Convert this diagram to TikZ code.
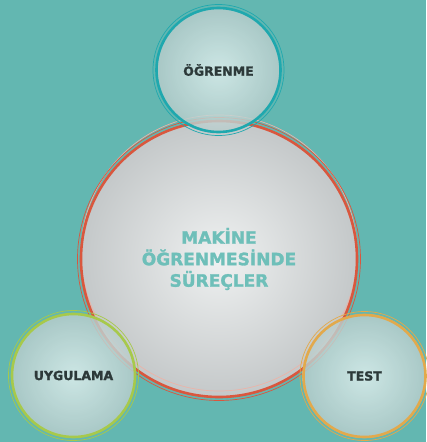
\documentclass[tikz,border=0pt]{standalone}
\usepackage{fontspec}
\setmainfont{DejaVu Sans}[BoldFeatures={FakeBold=1.6}]
\definecolor{bgteal}{HTML}{63B7B1}
\definecolor{ringred}{HTML}{D9573E}
\definecolor{ringpink}{HTML}{EBB3A8}
\definecolor{ringteal}{HTML}{1FA8AE}
\definecolor{ringgreen}{HTML}{A7C94B}
\definecolor{ringorange}{HTML}{E2A94C}
\definecolor{bigin}{HTML}{EFF1F1}
\definecolor{bigout}{HTML}{C4C8C9}
\definecolor{smallin}{HTML}{E4F1F0}
\definecolor{smallout}{HTML}{B8CCCB}
\definecolor{centertext}{HTML}{6EBFB9}
\definecolor{labeltext}{HTML}{2C3939}
\tikzset{
  bigbubble/.style={circle,minimum size=276pt,inner sep=0pt,shading=radial,
    inner color=bigin,outer color=bigout,text=centertext,align=center,
    font=\bfseries\fontsize{17}{21.5}\selectfont},
  bubble/.style={circle,minimum size=124pt,inner sep=0pt,shading=radial,
    inner color=smallin,outer color=smallout,fill opacity=.82,text opacity=1,
    text=labeltext,font=\bfseries\fontsize{12.5}{15}\selectfont},
  thickring/.style={line width=2.6pt},
  thinring/.style={line width=.7pt}
}
\begin{document}
\begin{tikzpicture}[x=1pt,y=-1pt]
\fill[bgteal](0,0)rectangle(426,442);
\useasboundingbox(0,0)rectangle(426,442);
%main circle
\node[bigbubble](surec)at(219,259){MAKİNE\\ÖĞRENMESİNDE\\SÜREÇLER};
\draw[thinring,ringpink](219,253)circle(138pt);
\draw[thickring,ringred](surec)circle(138pt);
\draw[thinring,ringred](surec)circle(141.5pt);
%process circles
\node[bubble](ogrenme)at(218.5,70){ÖĞRENME};
\draw[thickring,ringteal](ogrenme)circle(62pt);
\draw[thinring,ringteal](ogrenme)circle(65.5pt);
\node[bubble](uygulama)at(73.5,375.5){UYGULAMA};
\draw[thickring,ringgreen](uygulama)circle(61.5pt);
\draw[thinring,ringgreen](uygulama)circle(65pt);
\node[bubble](test)at(364.5,376){TEST};
\draw[thickring,ringorange](test)circle(61pt);
\draw[thinring,ringorange](test)circle(64.5pt);
\end{tikzpicture}
\end{document}
